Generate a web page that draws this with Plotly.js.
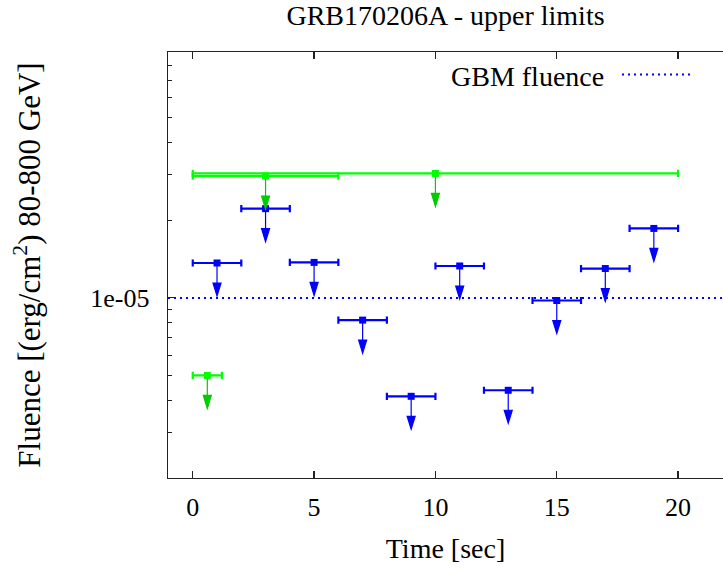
<!DOCTYPE html>
<html>
<head>
<meta charset="utf-8">
<script src="https://cdn.plot.ly/plotly-3.0.1.min.js"></script>
<style>
html,body{margin:0;padding:0;background:#fff;overflow:hidden;}
#chart{width:723px;height:571px;}
</style>
</head>
<body>
<div id="chart"></div>
<script>
// ---- data ----
const blueTime   = [1, 3, 5, 7, 9, 11, 13, 15, 17, 19];
const blueHalf   = [1, 1, 1, 1, 1, 1, 1, 1, 1, 1];
const blueLimit  = [1.366e-5, 2.22e-5, 1.373e-5, 8.2e-6, 4.15e-6, 1.33e-5, 4.38e-6, 9.77e-6, 1.30e-5, 1.86e-5];

const greenTime  = [0.6, 3, 10];
const greenHalf  = [0.6, 3, 10];
const greenLimit = [5.0e-6, 2.97e-5, 3.04e-5];

const gbmFluence = 1e-5;
const gbmLabel   = 'GBM fluence';

const xRange     = [-1.02, 21.85];
const yRange     = [2e-6, 9e-5];
const xTicks     = [0, 5, 10, 15, 20];
const yTicks     = [1e-5];
const yTickText  = ['1e-05'];
const yMinor     = [3e-6, 4e-6, 5e-6, 6e-6, 7e-6, 8e-6, 9e-6, 2e-5, 3e-5, 4e-5, 5e-5, 6e-5, 7e-5, 8e-5];

// ---- styles ----
const BLUE = '#0000ff';
const GREEN = '#00ff00';
const GREEN_ARROW = '#00cc00';
const FONT = 'Liberation Serif, Times New Roman, serif';
const AXC = '#222222';

function limitTrace(x, half, y, color) {
  return {
    type: 'scatter', mode: 'markers', x: x, y: y,
    marker: {symbol: 'square', size: 7, color: color},
    error_x: {type: 'data', array: half, symmetric: true, color: color, thickness: 2.2, width: 3.6},
    hoverinfo: 'x+y', showlegend: false
  };
}

function arrowShapes(x, y, color) {
  return x.map((xv, i) => ({
    type: 'path', xref: 'x', yref: 'y',
    xsizemode: 'pixel', ysizemode: 'pixel',
    xanchor: xv, yanchor: y[i],
    path: 'M0,-3V-21M-4,-20L4,-20L0,-33Z',
    line: {color: color, width: 1.2},
    fillcolor: color,
    layer: 'above'
  }));
}

const traces = [
  {
    type: 'scatter', mode: 'lines',
    x: xRange, y: [gbmFluence, gbmFluence],
    line: {color: BLUE, width: 2, dash: '2px,4px'},
    showlegend: false, hoverinfo: 'skip'
  },
  limitTrace(greenTime, greenHalf, greenLimit, GREEN),
  limitTrace(blueTime, blueHalf, blueLimit, BLUE)
];

const L = 168, R = 0, T = 52, B = 93;
const W = 723, H = 571;
const pw = W - L - R, ph = H - T - B;
function px2paperX(p) { return (p - L) / pw; }
function px2paperY(p) { return (H - B - p) / ph; }

const shapes = [].concat(
  arrowShapes(greenTime, greenLimit, GREEN_ARROW),
  arrowShapes(blueTime, blueLimit, BLUE),
  [{
    type: 'line', xref: 'paper', yref: 'paper',
    x0: px2paperX(622), x1: px2paperX(693),
    y0: px2paperY(74.5), y1: px2paperY(74.5),
    line: {color: BLUE, width: 2, dash: '2px,4px'}
  }]
);

const layout = {
  width: W, height: H,
  margin: {l: L, r: R, t: T, b: B, pad: 0},
  paper_bgcolor: '#ffffff', plot_bgcolor: '#ffffff',
  font: {family: FONT, size: 26, color: '#000000'},
  title: {
    text: 'GRB170206A - upper limits',
    font: {family: FONT, size: 28, color: '#000000'},
    x: 0.5, xref: 'paper', xanchor: 'center',
    y: 1 - 15.5 / H, yref: 'container', yanchor: 'middle'
  },
  xaxis: {
    range: xRange, tickvals: xTicks, ticktext: xTicks.map(String),
    ticks: 'inside', ticklen: 7, tickwidth: 1.2, tickcolor: AXC,
    showline: true, linecolor: AXC, linewidth: 1.3, mirror: 'ticks',
    showgrid: false, zeroline: false,
    tickfont: {family: FONT, size: 26, color: '#000'},
    ticklabelstandoff: 5,
    title: {text: 'Time [sec]', font: {family: FONT, size: 28, color: '#000'}, standoff: 18}
  },
  yaxis: {
    type: 'log',
    range: [Math.log10(yRange[0]), Math.log10(yRange[1])],
    tickvals: yTicks, ticktext: yTickText,
    ticks: 'inside', ticklen: 7, tickwidth: 1.2, tickcolor: AXC,
    minor: {tickvals: yMinor, ticks: 'inside', ticklen: 4, tickwidth: 1, tickcolor: AXC, showgrid: false},
    showline: true, linecolor: AXC, linewidth: 1.3, mirror: false,
    showgrid: false, zeroline: false,
    tickfont: {family: FONT, size: 26, color: '#000'},
    ticklabelstandoff: 12,
    title: {text: 'Fluence [(erg/cm<sup>2</sup>) 80-800 GeV]', font: {family: FONT, size: 31, color: '#000'}, standoff: 40}
  },
  shapes: shapes,
  annotations: [{
    text: gbmLabel, xref: 'paper', yref: 'paper',
    x: px2paperX(606), y: px2paperY(76),
    xanchor: 'right', yanchor: 'middle', showarrow: false,
    font: {family: FONT, size: 28, color: '#000'}
  }],
  showlegend: false
};

Plotly.newPlot('chart', traces, layout, {displayModeBar: false, staticPlot: true});
</script>
</body>
</html>
